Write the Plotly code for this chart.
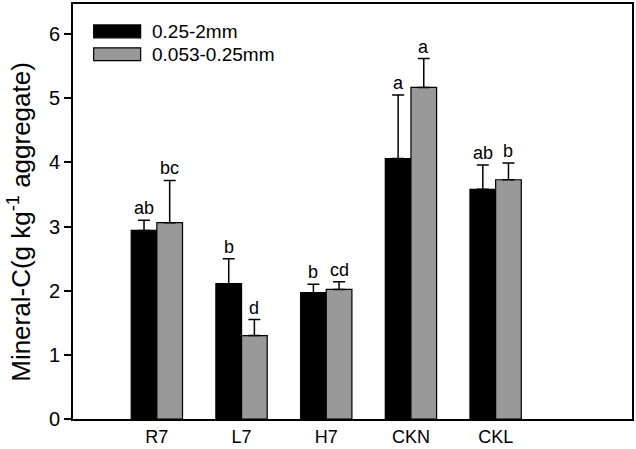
import plotly.graph_objects as go

categories = ["R7", "L7", "H7", "CKN", "CKL"]
series_names = ["0.25-2mm", "0.053-0.25mm"]
coarse_vals = [2.94, 2.11, 1.97, 4.06, 3.58]
coarse_err = [0.16, 0.39, 0.13, 0.99, 0.38]
fine_vals = [3.06, 1.30, 2.02, 5.17, 3.73]
fine_err = [0.66, 0.25, 0.12, 0.45, 0.26]
coarse_letters = ["ab", "b", "b", "a", "ab"]
fine_letters = ["bc", "d", "cd", "a", "b"]
y_ticks = [0, 1, 2, 3, 4, 5, 6]

colors = ["#000000", "#999999"]
bw = 0.303
idx = list(range(len(categories)))
FONT = "Liberation Sans, Arial, sans-serif"

fig = go.Figure()
series = [(coarse_vals, coarse_err, coarse_letters, -bw),
          (fine_vals, fine_err, fine_letters, 0.0)]
for k, (vals, err, letters, off) in enumerate(series):
    fig.add_trace(go.Bar(
        x=idx, y=vals, width=bw, offset=off, name=series_names[k],
        marker=dict(color=colors[k], line=dict(color="#000000", width=1.2)),
        error_y=dict(type="data", array=err, arrayminus=[0]*len(err), symmetric=False,
                     color="#000000", thickness=1.5, width=6),
        showlegend=False,
    ))
    for i, (v, e, t) in enumerate(zip(vals, err, letters)):
        fig.add_annotation(x=i + off + bw/2, y=v + e, text=t, showarrow=False,
                           yanchor="bottom", yshift=0,
                           font=dict(family=FONT, size=18, color="#000"))

# legend drawn manually
leg_y = [0.934, 0.879]
for k in range(2):
    fig.add_shape(type="rect", xref="paper", yref="paper",
                  x0=0.037, x1=0.121, y0=leg_y[k] - 0.0155, y1=leg_y[k] + 0.0155,
                  fillcolor=colors[k], line=dict(color="#000", width=1.2))
    fig.add_annotation(xref="paper", yref="paper", x=0.137, y=leg_y[k], text=series_names[k],
                       showarrow=False, xanchor="left", yanchor="middle",
                       font=dict(family=FONT, size=19, color="#000"))

# y-axis title
fig.add_annotation(xref="paper", yref="paper", x=-0.095, y=0.475, xanchor="center", yanchor="middle",
                   text="Mineral-C(g kg<sup>-1</sup> aggregate)", textangle=-90, showarrow=False,
                   font=dict(family=FONT, size=26, color="#000"))

fig.update_layout(
    width=636, height=449,
    margin=dict(l=73, r=2, t=2, b=28),
    plot_bgcolor="white", paper_bgcolor="white",
    barmode="overlay",
    font=dict(family=FONT, color="#000"),
    xaxis=dict(range=[-0.99, 5.61], tickvals=idx, ticktext=categories, showgrid=False,
               zeroline=False, showline=True, linecolor="#000", linewidth=1.8, mirror=True,
               ticks="", tickfont=dict(size=18)),
    yaxis=dict(range=[0, 6.47], tickvals=y_ticks, showgrid=False, zeroline=False,
               showline=True, linecolor="#000", linewidth=1.8, mirror=True,
               ticks="outside", ticklen=7, tickwidth=1.5, tickcolor="#000",
               tickfont=dict(size=20)),
)

fig.write_html("out.html")
